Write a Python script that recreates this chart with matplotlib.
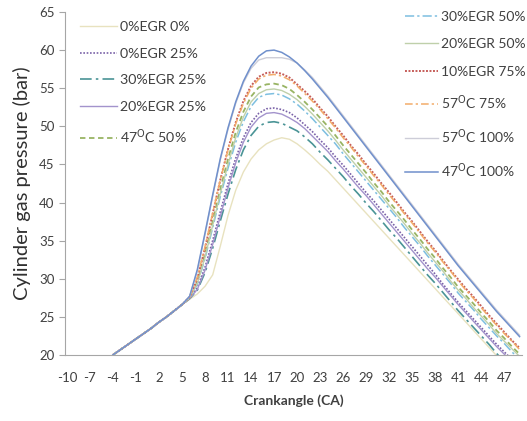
import matplotlib
matplotlib.use("Agg")
import matplotlib.pyplot as plt
import numpy as np

plt.rcParams['font.family'] = ['Lato', 'DejaVu Sans']
plt.rcParams['axes.unicode_minus'] = False

# crank angle (deg), compression part shared by all runs
ca = list(range(-4, 50))
compression = [20.0, 20.7, 21.4, 22.1, 22.8, 23.5, 24.3, 25.0, 25.8, 26.6]

# pressure (bar) from CA 6 to 49 for every run
p_0egr_0 = [27.3, 28.0, 29.0, 30.5, 34.3, 38.3, 41.6, 44.0, 45.7, 46.9, 47.7, 48.2, 48.5, 48.3,
            47.7, 46.9, 46.0, 45.0, 44.1, 43.0, 41.9, 40.8, 39.7, 38.6, 37.5, 36.4, 35.3, 34.2,
            33.1, 32.0, 30.9, 29.8, 28.7, 27.6, 26.5, 25.4, 24.3, 23.2, 22.1, 21.0, 19.9, 18.9,
            17.9, 16.9]
p_0egr_25 = [27.4, 28.8, 31.5, 35.0, 38.8, 42.5, 45.8, 48.5, 50.5, 51.7, 52.3, 52.4, 52.2, 51.8,
             51.1, 50.2, 49.3, 48.2, 47.2, 46.0, 44.9, 43.7, 42.5, 41.3, 40.2, 39.0, 37.8, 36.6,
             35.4, 34.2, 33.0, 31.8, 30.6, 29.3, 28.1, 26.9, 25.8, 24.7, 23.6, 22.5, 21.4, 20.4,
             19.4, 18.5]
p_30egr_25 = [27.4, 28.5, 30.8, 34.0, 37.6, 41.1, 44.3, 46.9, 48.8, 50.0, 50.5, 50.6, 50.4, 49.9,
              49.4, 48.6, 47.7, 46.6, 45.6, 44.5, 43.4, 42.2, 41.1, 39.9, 38.8, 37.6, 36.4, 35.3,
              34.1, 32.9, 31.7, 30.5, 29.4, 28.2, 27.0, 25.8, 24.7, 23.6, 22.5, 21.4, 20.2, 19.1,
              18.0, 17.0]
p_20egr_25 = [27.4, 28.6, 31.1, 34.5, 38.2, 41.9, 45.2, 47.9, 49.9, 51.1, 51.7, 51.8, 51.6, 51.1,
              50.5, 49.7, 48.7, 47.7, 46.7, 45.5, 44.4, 43.2, 42.0, 40.9, 39.7, 38.5, 37.3, 36.1,
              34.9, 33.7, 32.5, 31.3, 30.2, 29.0, 27.8, 26.6, 25.5, 24.4, 23.3, 22.2, 21.1, 20.1,
              19.1, 18.1]
p_47c_50 = [27.5, 29.6, 33.2, 37.5, 41.8, 45.7, 49.2, 51.9, 53.9, 55.1, 55.5, 55.6, 55.4, 54.9,
            54.1, 53.2, 52.2, 51.1, 50.0, 48.8, 47.5, 46.3, 45.1, 43.9, 42.6, 41.4, 40.1, 38.9,
            37.7, 36.4, 35.2, 33.9, 32.7, 31.4, 30.2, 28.9, 27.8, 26.7, 25.5, 24.4, 23.2, 22.2,
            21.1, 20.1]
p_30egr_50 = [27.5, 29.3, 32.6, 36.7, 40.8, 44.5, 47.9, 50.6, 52.6, 53.8, 54.2, 54.3, 54.1, 53.6,
              52.9, 52.0, 51.0, 49.9, 48.8, 47.7, 46.4, 45.2, 44.0, 42.8, 41.6, 40.4, 39.2, 38.0,
              36.7, 35.5, 34.3, 33.0, 31.8, 30.6, 29.4, 28.1, 27.0, 25.9, 24.7, 23.6, 22.5, 21.5,
              20.4, 19.4]
p_20egr_50 = [27.5, 29.4, 32.8, 37.0, 41.2, 45.0, 48.5, 51.2, 53.2, 54.3, 54.8, 54.9, 54.7, 54.2,
              53.5, 52.6, 51.6, 50.5, 49.4, 48.2, 46.9, 45.7, 44.5, 43.3, 42.1, 40.9, 39.6, 38.4,
              37.2, 35.9, 34.7, 33.4, 32.2, 31.0, 29.7, 28.5, 27.4, 26.2, 25.1, 24.0, 22.8, 21.8,
              20.8, 19.8]
p_10egr_75 = [27.6, 30.0, 34.0, 38.5, 43.0, 47.0, 50.5, 53.3, 55.3, 56.5, 57.0, 57.1, 56.9, 56.4,
              55.5, 54.6, 53.6, 52.4, 51.3, 50.0, 48.8, 47.5, 46.3, 45.0, 43.8, 42.5, 41.3, 40.0,
              38.7, 37.5, 36.2, 34.9, 33.7, 32.4, 31.1, 29.9, 28.7, 27.6, 26.4, 25.2, 24.1, 23.0,
              21.9, 20.9]
p_57c_75 = [27.6, 30.2, 34.2, 38.6, 43.0, 46.9, 50.3, 53.0, 55.0, 56.2, 56.7, 56.8, 56.6, 56.1,
            55.3, 54.3, 53.3, 52.2, 51.0, 49.8, 48.5, 47.3, 46.0, 44.8, 43.5, 42.3, 41.0, 39.8,
            38.5, 37.3, 36.0, 34.7, 33.5, 32.2, 31.0, 29.7, 28.5, 27.4, 26.2, 25.0, 23.9, 22.8,
            21.8, 20.7]
p_57c_100 = [27.7, 31.0, 35.8, 40.8, 45.6, 49.6, 53.0, 55.7, 57.6, 58.7, 59.0, 59.0, 59.0, 58.8,
             58.3, 57.4, 56.4, 55.2, 54.0, 52.7, 51.4, 50.1, 48.8, 47.5, 46.2, 44.9, 43.6, 42.3,
             41.0, 39.7, 38.4, 37.1, 35.8, 34.5, 33.2, 31.9, 30.7, 29.5, 28.3, 27.1, 25.9, 24.8,
             23.7, 22.6]
p_47c_100 = [27.7, 31.2, 36.0, 41.0, 45.8, 49.8, 53.2, 55.9, 57.9, 59.2, 59.9, 60.0, 59.7, 59.1,
             58.3, 57.3, 56.2, 55.0, 53.8, 52.5, 51.2, 49.9, 48.6, 47.3, 46.0, 44.7, 43.4, 42.1,
             40.8, 39.5, 38.2, 36.9, 35.6, 34.3, 33.0, 31.7, 30.5, 29.3, 28.1, 26.9, 25.7, 24.6,
             23.5, 22.4]

left_series = [
    ("0%EGR 0%", p_0egr_0, '#e8e2bf', '-', 1.0),
    ("0%EGR 25%", p_0egr_25, '#7a62a8', (0, (1, 1)), 1.2),
    ("30%EGR 25%", p_30egr_25, '#4a9496', (0, (7, 2.5, 1.5, 2.5)), 1.2),
    ("20%EGR 25%", p_20egr_25, '#a393cc', '-', 1.0),
    ("47$^{\\mathrm{O}}$C 50%", p_47c_50, '#98b463', (0, (3, 2)), 1.3),
]
right_series = [
    ("30%EGR 50%", p_30egr_50, '#7dbfe0', (0, (6, 2, 1.5, 2)), 1.1),
    ("20%EGR 50%", p_20egr_50, '#bfd0aa', '-', 1.0),
    ("10%EGR 75%", p_10egr_75, '#c65e5a', (0, (1, 0.8)), 1.4),
    ("57$^{\\mathrm{O}}$C 75%", p_57c_75, '#f3ac6a', (0, (5, 2, 1.5, 2)), 1.1),
    ("57$^{\\mathrm{O}}$C 100%", p_57c_100, '#cdcdd8', '-', 1.0),
    ("47$^{\\mathrm{O}}$C 100%", p_47c_100, '#7090cc', '-', 1.1),
]

fig = plt.figure(figsize=(5.27, 4.21), dpi=100)
ax = fig.add_axes([0.1233, 0.157, 0.867, 0.8145])

left_handles = []
for name, vals, col, ls, lw in left_series:
    h, = ax.plot(ca, compression + vals, color=col, linestyle=ls, linewidth=lw, label=name)
    left_handles.append(h)
right_handles = []
for name, vals, col, ls, lw in right_series:
    h, = ax.plot(ca, compression + vals, color=col, linestyle=ls, linewidth=lw, label=name)
    right_handles.append(h)

ax.set_xlim(-10.25, 49.3)
ax.set_ylim(20, 65)
ax.set_xticks(range(-10, 48, 3))
ax.set_yticks(range(20, 66, 5))
for s in ['top', 'right']:
    ax.spines[s].set_visible(False)
for s in ['left', 'bottom']:
    ax.spines[s].set_color('#a6a6a6')
ax.tick_params(axis='x', length=0, pad=12, labelsize=9.5, colors='#404040')
ax.tick_params(axis='y', length=4, color='#a6a6a6', labelsize=9.5, labelcolor='#404040')
ax.set_xlabel("Crankangle (CA)", fontsize=10, fontweight='bold', color='#404040', labelpad=8)
ax.set_ylabel("Cylinder gas pressure (bar)", fontsize=14.5, color='#303030', labelpad=6)

leg1 = ax.legend(handles=left_handles, loc='upper left', bbox_to_anchor=(0.005, 1.01),
                 frameon=False, fontsize=10.2, handlelength=2.6, labelspacing=1.02,
                 handletextpad=0.2, labelcolor='#404040')
ax.add_artist(leg1)
ax.legend(handles=right_handles, loc='upper right', bbox_to_anchor=(1.035, 1.04),
          frameon=False, fontsize=10.0, handlelength=2.4, labelspacing=1.12,
          handletextpad=0.2, labelcolor='#404040')

plt.savefig("out.png", dpi=100)
plt.close()
